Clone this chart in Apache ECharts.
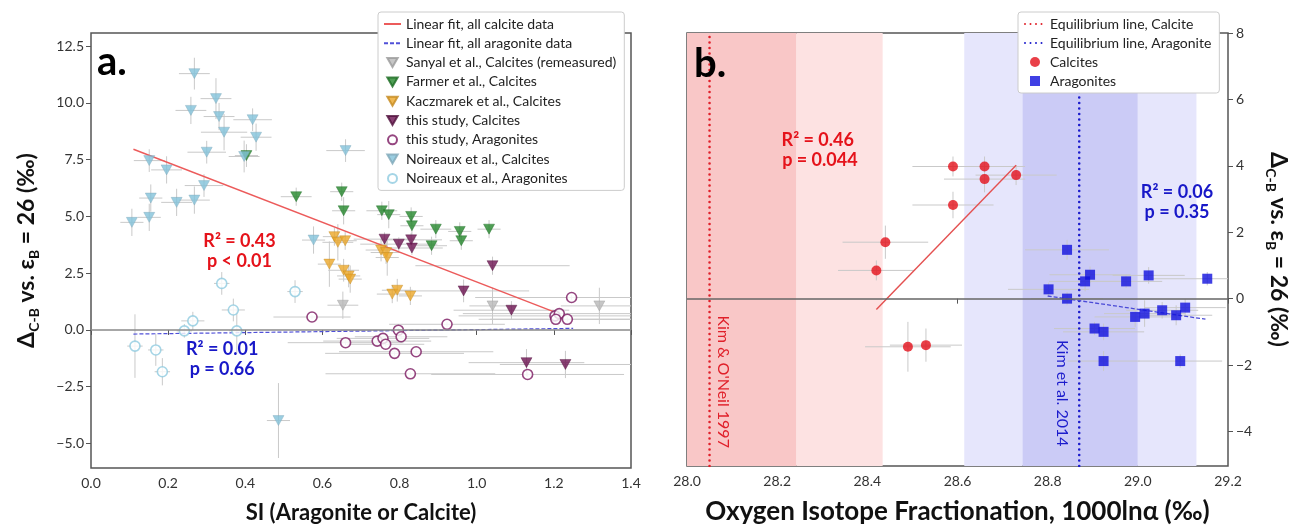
<!DOCTYPE html>
<html>
<head>
<meta charset="utf-8">
<script src="https://cdn.jsdelivr.net/npm/echarts@6.0.0/dist/echarts.min.js"></script>
<style>
  html, body { margin: 0; padding: 0; background: #fff; }
  #main { width: 1305px; height: 530px; }
</style>
</head>
<body>
<div id="main"></div>
<script>
// ---- panel a: [SI, delta, SI err, delta err]
const noireauxCalc = [
  [0.268, 11.29, 0.04, 0.7], [0.324, 10.19, 0.04, 0.9], [0.259, 9.67, 0.04, 0.6],
  [0.332, 9.40, 0.04, 0.6], [0.419, 9.26, 0.05, 0.5], [0.345, 8.71, 0.06, 0.8],
  [0.428, 8.49, 0.04, 0.6], [0.300, 7.83, 0.05, 0.5], [0.397, 7.64, 0.04, 0.7],
  [0.151, 7.46, 0.04, 0.5], [0.196, 7.05, 0.04, 0.6], [0.293, 6.36, 0.05, 0.5],
  [0.155, 5.81, 0.03, 0.6], [0.222, 5.62, 0.04, 0.6], [0.268, 5.72, 0.04, 0.6],
  [0.151, 4.96, 0.03, 0.6], [0.106, 4.74, 0.03, 0.6], [0.660, 7.90, 0.05, 0.5],
  [0.577, 3.96, 0.03, 0.6], [0.486, -3.99, 0.03, 1.65]
];
const farmer = [
  [0.403, 7.68, 0.03, 0.5], [0.532, 5.87, 0.04, 0.4], [0.650, 6.09, 0.03, 0.4],
  [0.655, 5.25, 0.03, 0.6], [0.754, 5.25, 0.04, 0.4], [0.772, 5.08, 0.03, 0.6],
  [0.830, 5.00, 0.03, 0.4], [0.832, 4.59, 0.03, 0.4], [0.894, 4.44, 0.04, 0.4],
  [0.883, 3.71, 0.04, 0.4], [0.956, 4.34, 0.03, 0.4], [0.960, 3.93, 0.03, 0.4],
  [1.032, 4.44, 0.03, 0.4]
];
const kaczmarek = [
  [0.631, 4.11, 0.03, 0.4], [0.640, 3.86, 0.04, 0.8], [0.659, 3.93, 0.03, 0.4],
  [0.618, 2.90, 0.03, 1.0], [0.655, 2.63, 0.04, 0.5], [0.668, 2.38, 0.03, 0.5],
  [0.672, 2.24, 0.03, 0.6], [0.752, 3.52, 0.04, 0.5], [0.765, 3.41, 0.04, 0.5],
  [0.768, 3.19, 0.03, 0.8], [0.781, 1.58, 0.04, 0.4], [0.794, 1.75, 0.04, 0.5],
  [0.828, 1.50, 0.03, 0.4]
];
const thisCalc = [
  [0.761, 4.00, 0.08, 0.3], [0.798, 3.78, 0.10, 0.3], [0.830, 3.97, 0.08, 0.3],
  [0.832, 3.61, 0.08, 0.3], [1.041, 2.83, 0.20, 0.4], [0.966, 1.72, 0.17, 0.5],
  [1.090, 0.87, 0.15, 0.4], [1.129, -1.44, 0.15, 0.6], [1.230, -1.52, 0.17, 0.6]
];
const sanyal = [
  [0.653, 1.09, 0.04, 0.6], [1.041, 1.06, 0.06, 0.8], [1.318, 1.06, 0.10, 0.8]
];
const thisArag = [
  [0.573, 0.57, 0.10, 0.1], [0.660, -0.56, 0.15, 0.1], [0.742, -0.49, 0.14, 0.1],
  [0.757, -0.37, 0.12, 0.1], [0.764, -0.63, 0.10, 0.1], [0.787, -1.03, 0.18, 0.1],
  [0.797, -0.01, 0.15, 0.1], [0.804, -0.30, 0.12, 0.1], [0.828, -1.93, 0.22, 0.1],
  [0.843, -0.96, 0.20, 0.1], [0.923, 0.25, 0.15, 0.1], [1.132, -1.96, 0.25, 0.1],
  [1.203, 0.62, 0.25, 0.1], [1.214, 0.72, 0.25, 0.1], [1.205, 0.47, 0.20, 0.1],
  [1.235, 0.47, 0.20, 0.1], [1.246, 1.43, 0.25, 0.1]
];
const noireauxArag = [
  [0.339, 2.05, 0.02, 0.5], [0.529, 1.69, 0.02, 0.5], [0.369, 0.88, 0.03, 0.5],
  [0.264, 0.40, 0.03, 0.4], [0.242, -0.04, 0.02, 0.3], [0.378, -0.04, 0.02, 1.0],
  [0.114, -0.71, 0.02, 1.4], [0.168, -0.88, 0.02, 0.7], [0.185, -1.84, 0.02, 0.6]
];
const calciteFitA = [[0.110, 7.96], [1.199, 0.81]];
const aragFitA = [[0.11, -0.18], [1.25, 0.07]];
const xTicksA = [0, 0.2, 0.4, 0.6, 0.8, 1.0, 1.2, 1.4];
const yTicksA = [-5, -2.5, 0, 2.5, 5, 7.5, 10, 12.5];

// ---- panel b: [1000ln alpha, delta, x err, y err]
const calciteB = [
  [28.42, 0.85, 0.085, 0.3], [28.44, 1.70, 0.095, 0.5], [28.49, -1.45, 0.095, 0.75],
  [28.53, -1.40, 0.08, 0.5], [28.59, 2.82, 0.09, 0.4], [28.59, 3.98, 0.09, 0.3],
  [28.66, 3.98, 0.09, 0.3], [28.66, 3.60, 0.09, 0.4], [28.73, 3.72, 0.09, 0.3]
];
const aragB = [
  [28.843, 1.47, 0.093, 0.3], [28.894, 0.72, 0.09, 0.25], [28.883, 0.52, 0.08, 0.3],
  [28.974, 0.52, 0.08, 0.2], [29.024, 0.70, 0.08, 0.25], [29.154, 0.60, 0.12, 0.2],
  [28.802, 0.28, 0.09, 0.2], [28.843, 0.00, 0.08, 0.2], [28.994, -0.55, 0.09, 0.3],
  [29.015, -0.45, 0.09, 0.4], [29.054, -0.35, 0.08, 0.25], [29.085, -0.50, 0.08, 0.3],
  [29.105, -0.27, 0.09, 0.25], [28.904, -0.90, 0.09, 0.2], [28.924, -1.00, 0.09, 0.25],
  [28.924, -1.88, 0.08, 0.3], [29.094, -1.88, 0.093, 0.2]
];
const calciteFitB = [[28.42, -0.33], [28.73, 4.02]];
const aragFitB = [[28.80, 0.08], [29.15, -0.62]];
const eqCalcite = 28.05;
const eqArag = 28.87;
const bandRanges = [[28.0, 28.243], [28.243, 28.434], [28.615, 28.744], [28.744, 29.0], [29.0, 29.13]];
const xTicksB = [28.0, 28.2, 28.4, 28.6, 28.8, 29.0, 29.2];
const yTicksB = [-4, -2, 0, 2, 4, 6, 8];

const bandColors = ['#f9c7c7', '#fde2e2', '#e6e6fc', '#cbcbf6', '#e6e6fc'];
const FONT = 'Lato';
const triDown = 'path://M0,0L10,0L5,8.7Z';
const square = 'path://M0,0L10,0L10,10L0,10Z';
const fmtMinus = s => s.replace('-', '\u2212');
const noDot = { opacity: 0 };

const chart = echarts.init(document.getElementById('main'));

function errRender(params, api) {
  const x = api.value(0), y = api.value(1), ex = api.value(2), ey = api.value(3);
  const c = api.coord([x, y]);
  const l = api.coord([x - ex, y]), r = api.coord([x + ex, y]);
  const t = api.coord([x, y + ey]), b = api.coord([x, y - ey]);
  const style = { stroke: '#c9c9c9', lineWidth: 1 };
  return {
    type: 'group',
    children: [
      { type: 'line', shape: { x1: l[0], y1: c[1], x2: r[0], y2: c[1] }, style },
      { type: 'line', shape: { x1: c[0], y1: t[1], x2: c[0], y2: b[1] }, style }
    ]
  };
}
function errSeries(data, idx) {
  return {
    type: 'custom', name: 'err', xAxisIndex: idx, yAxisIndex: idx, data: data,
    renderItem: errRender, clip: true, silent: true, z: 2,
    encode: { x: 0, y: 1 }
  };
}
function scatter(name, data, idx, symbol, size, style) {
  return {
    type: 'scatter', name, data: data.map(d => [d[0], d[1]]), xAxisIndex: idx, yAxisIndex: idx,
    symbol, symbolSize: size, itemStyle: style, z: 4, silent: true
  };
}

const deltaName = '{t|\u0394}{s|C-B}{t| vs. \u03b5}{s|B}{t| = 26 (\u2030)}';
const nameStyle = {
  fontFamily: FONT, fontSize: 23, fontWeight: 'bold', color: '#111',
  rich: {
    t: { fontFamily: FONT, fontSize: 23, fontWeight: 'bold', color: '#111', lineHeight: 28 },
    s: { fontFamily: FONT, fontSize: 14, fontWeight: 'bold', color: '#111', verticalAlign: 'bottom', lineHeight: 14 }
  }
};
const tickLabel = { fontFamily: FONT, fontSize: 14, color: '#333' };
const legendText = { fontFamily: FONT, fontSize: 14, color: '#222', lineHeight: 14 };

const option = {
  animation: false,
  backgroundColor: '#fff',
  grid: [
    { left: 91, right: 674, top: 33, bottom: 62, show: true, borderColor: '#555', borderWidth: 1.5, backgroundColor: 'transparent' },
    { left: 687, right: 77, top: 33, bottom: 62, show: true, borderColor: '#555', borderWidth: 1.5, backgroundColor: 'transparent' }
  ],
  xAxis: [
    {
      type: 'value', gridIndex: 0, min: 0, max: 1.4,
      axisLine: { show: false }, splitLine: { show: false },
      axisTick: { show: true, length: 5, lineStyle: { color: '#555' }, customValues: xTicksA },
      axisLabel: { ...tickLabel, margin: 8, customValues: xTicksA, formatter: v => v.toFixed(1) },
      name: 'SI (Aragonite or Calcite)', nameLocation: 'middle', nameGap: 34,
      nameTextStyle: { fontFamily: FONT, fontSize: 22, fontWeight: 'bold', color: '#111' }
    },
    {
      type: 'value', gridIndex: 1, min: 28.0, max: 29.2,
      axisLine: { show: false }, splitLine: { show: false },
      axisTick: { show: true, length: 5, lineStyle: { color: '#555' }, customValues: xTicksB },
      axisLabel: { ...tickLabel, margin: 8, customValues: xTicksB, formatter: v => v.toFixed(1) },
      name: 'Oxygen Isotope Fractionation, 1000ln\u03b1 (\u2030)', nameLocation: 'middle', nameGap: 33,
      nameTextStyle: { fontFamily: FONT, fontSize: 26, fontWeight: 'bold', color: '#111', letterSpacing: 1 }
    }
  ],
  yAxis: [
    {
      type: 'value', gridIndex: 0, min: -6.08, max: 13.08,
      axisLine: { show: false }, splitLine: { show: false },
      axisTick: { show: true, length: 5, lineStyle: { color: '#555' }, customValues: yTicksA },
      axisLabel: { ...tickLabel, margin: 7, customValues: yTicksA, formatter: v => fmtMinus(v.toFixed(1)) },
      name: deltaName, nameLocation: 'middle', nameRotate: 90, nameGap: 50, nameTextStyle: nameStyle
    },
    {
      type: 'value', gridIndex: 1, position: 'right', min: -5.04, max: 8,
      axisLine: { show: false }, splitLine: { show: false },
      axisTick: { show: true, length: 5, lineStyle: { color: '#555' }, customValues: yTicksB },
      axisLabel: { ...tickLabel, margin: 8, customValues: yTicksB, formatter: v => fmtMinus(String(v)) },
      name: deltaName, nameLocation: 'middle', nameRotate: -90, nameGap: 36, nameTextStyle: nameStyle
    }
  ],
  legend: [
    {
      left: 378, top: 12, orient: 'vertical', itemWidth: 17, itemHeight: 9, itemGap: 5.3,
      padding: [5, 8, 5, 5], backgroundColor: '#fff', borderColor: '#ccc', borderWidth: 1, borderRadius: 3,
      textStyle: legendText, selectedMode: false, z: 10,
      data: [
        { name: 'Linear fit, all calcite data', itemStyle: noDot },
        { name: 'Linear fit, all aragonite data', itemStyle: noDot },
        'Sanyal et al., Calcites (remeasured)', 'Farmer et al., Calcites', 'Kaczmarek et al., Calcites',
        'this study, Calcites', 'this study, Aragonites', 'Noireaux et al., Calcites', 'Noireaux et al., Aragonites'
      ]
    },
    {
      left: 1018, top: 12, orient: 'vertical', itemWidth: 20, itemHeight: 10, itemGap: 5,
      padding: [5, 8, 5, 6], backgroundColor: '#fff', borderColor: '#ccc', borderWidth: 1, borderRadius: 3,
      textStyle: legendText, selectedMode: false, z: 10,
      data: [
        { name: 'Equilibrium line, Calcite', itemStyle: noDot },
        { name: 'Equilibrium line, Aragonite', itemStyle: noDot },
        'Calcites', 'Aragonites'
      ]
    }
  ],
  series: [
    // panel a
    {
      type: 'line', name: 'zeroA', xAxisIndex: 0, yAxisIndex: 0, data: [], silent: true,
      markLine: { silent: true, symbol: 'none', label: { show: false }, lineStyle: { color: '#8a8a8a', width: 1.6, type: 'solid' }, data: [{ yAxis: 0 }] }
    },
    errSeries(sanyal, 0), errSeries(farmer, 0), errSeries(kaczmarek, 0), errSeries(thisCalc, 0),
    errSeries(thisArag, 0), errSeries(noireauxCalc, 0), errSeries(noireauxArag, 0),
    {
      type: 'line', name: 'Linear fit, all calcite data', xAxisIndex: 0, yAxisIndex: 0, data: calciteFitA,
      symbol: 'none', lineStyle: { color: '#ec5b5b', width: 1.4 }, itemStyle: { color: '#ec5b5b' }, z: 3, silent: true
    },
    {
      type: 'line', name: 'Linear fit, all aragonite data', xAxisIndex: 0, yAxisIndex: 0, data: aragFitA,
      symbol: 'none', lineStyle: { color: '#5050d8', width: 1.2, type: [4, 2] }, itemStyle: { color: '#5050d8' }, z: 3, silent: true
    },
    scatter('Sanyal et al., Calcites (remeasured)', sanyal, 0, triDown, [11, 10], { color: '#b8b8b8', borderColor: '#9a9a9a', borderWidth: 0.5 }),
    scatter('Farmer et al., Calcites', farmer, 0, triDown, [11, 10], { color: '#23862a', borderColor: '#1c6b22', borderWidth: 0.5 }),
    scatter('Kaczmarek et al., Calcites', kaczmarek, 0, triDown, [11, 10], { color: '#eba628', borderColor: '#c48a1f', borderWidth: 0.5 }),
    scatter('this study, Calcites', thisCalc, 0, triDown, [11, 10], { color: '#6b1250', borderColor: '#50103c', borderWidth: 0.5 }),
    scatter('this study, Aragonites', thisArag, 0, 'circle', 10, { color: '#fff', borderColor: '#7a1860', borderWidth: 1.6 }),
    scatter('Noireaux et al., Calcites', noireauxCalc, 0, triDown, [11, 10], { color: '#82c2d9', borderColor: '#7fa8b8', borderWidth: 0.5 }),
    scatter('Noireaux et al., Aragonites', noireauxArag, 0, 'circle', 10, { color: '#fff', borderColor: '#8fcbe0', borderWidth: 1.6 }),
    // panel b
    {
      type: 'line', name: 'bands', xAxisIndex: 1, yAxisIndex: 1, data: [], silent: true, z: 0,
      markArea: {
        silent: true,
        data: bandRanges.map((r, i) => [{ xAxis: r[0], itemStyle: { color: bandColors[i] } }, { xAxis: r[1] }])
      },
      markLine: { silent: true, symbol: 'none', label: { show: false }, lineStyle: { color: '#666', width: 1.6, type: 'solid' }, data: [{ yAxis: 0 }] }
    },
    {
      type: 'line', name: 'Equilibrium line, Calcite', xAxisIndex: 1, yAxisIndex: 1,
      data: [[eqCalcite, -5.04], [eqCalcite, 8]], symbol: 'none', silent: true, z: 3,
      lineStyle: { color: '#e0202a', width: 2.6, type: [0, 5.5], cap: 'round' }, itemStyle: { color: '#e0202a' }
    },
    {
      type: 'line', name: 'Equilibrium line, Aragonite', xAxisIndex: 1, yAxisIndex: 1,
      data: [[eqArag, -5.04], [eqArag, 8]], symbol: 'none', silent: true, z: 3,
      lineStyle: { color: '#1c1ccc', width: 2.6, type: [0, 5.5], cap: 'round' }, itemStyle: { color: '#1c1ccc' }
    },
    errSeries(calciteB, 1), errSeries(aragB, 1),
    {
      type: 'line', name: 'fitCalcB', xAxisIndex: 1, yAxisIndex: 1, data: calciteFitB,
      symbol: 'none', lineStyle: { color: '#e45050', width: 1.4 }, z: 3, silent: true
    },
    {
      type: 'line', name: 'fitAragB', xAxisIndex: 1, yAxisIndex: 1, data: aragFitB,
      symbol: 'none', lineStyle: { color: '#4a4ad6', width: 1.3, type: [4, 2] }, z: 3, silent: true
    },
    scatter('Calcites', calciteB, 1, 'circle', 10, { color: '#e3101a' }),
    scatter('Aragonites', aragB, 1, square, 10, { color: '#1010dd' })
  ]
};
chart.setOption(option);

// text annotations anchored in data space
function px(idx, x, y) {
  return chart.convertToPixel({ xAxisIndex: idx, yAxisIndex: idx }, [x, y]);
}
const boldNote = { fontFamily: FONT, fontSize: 18, fontWeight: 'bold', textAlign: 'center', textVerticalAlign: 'middle', lineHeight: 20 };
const notes = [
  { at: px(0, 0.385, 3.45), text: 'R\u00b2 = 0.43\np < 0.01', color: '#e5121a' },
  { at: px(0, 0.340, -1.3), text: 'R\u00b2 = 0.01\np = 0.66', color: '#1818c8' },
  { at: px(1, 28.29, 4.48), text: 'R\u00b2 = 0.46\n p = 0.044', color: '#e5121a' },
  { at: px(1, 29.087, 2.9), text: 'R\u00b2 = 0.06\np = 0.35', color: '#1818c8' }
];
const vlabels = [
  { at: px(1, eqCalcite + 0.03, -2.5), text: "Kim & O'Neil 1997", color: '#e0202a' },
  { at: px(1, eqArag - 0.038, -2.85), text: 'Kim et al. 2014', color: '#1c1ccc' }
];
chart.setOption({
  graphic: [
    { type: 'text', left: 97, top: 42, z: 20, style: { text: 'a.', fontFamily: FONT, fontSize: 40, fontWeight: 'bold', fill: '#000' } },
    { type: 'text', left: 694, top: 44, z: 20, style: { text: 'b.', fontFamily: FONT, fontSize: 40, fontWeight: 'bold', fill: '#000' } },
    ...notes.map(n => ({ type: 'text', x: n.at[0], y: n.at[1], z: 20, style: { ...boldNote, text: n.text, fill: n.color } })),
    ...vlabels.map(n => ({
      type: 'text', x: n.at[0], y: n.at[1], rotation: -Math.PI / 2, z: 20,
      style: { text: n.text, fontFamily: FONT, fontSize: 16, fill: n.color, textAlign: 'center', textVerticalAlign: 'middle' }
    }))
  ]
});
</script>
</body>
</html>
